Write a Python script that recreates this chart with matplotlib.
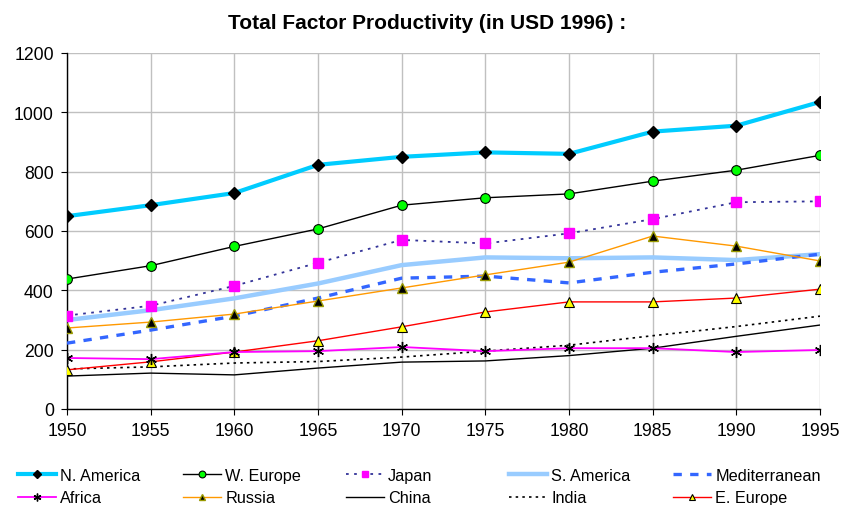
import matplotlib
matplotlib.use("Agg")
import matplotlib.pyplot as plt
from matplotlib.lines import Line2D

plt.rcParams['font.family'] = ['Liberation Sans', 'DejaVu Sans']

years = [1950, 1955, 1960, 1965, 1970, 1975, 1980, 1985, 1990, 1995]
n_america = [650, 687, 728, 823, 850, 865, 860, 935, 955, 1035]
w_europe = [438, 483, 548, 607, 687, 712, 725, 768, 805, 855]
japan = [315, 348, 415, 493, 570, 558, 592, 640, 697, 700]
s_america = [300, 333, 373, 423, 485, 511, 508, 511, 502, 522]
mediterranean = [222, 266, 313, 374, 441, 448, 425, 461, 489, 522]
africa = [172, 168, 192, 195, 209, 195, 205, 205, 192, 199]
russia = [273, 293, 320, 364, 408, 452, 495, 583, 549, 499]
china = [111, 121, 115, 138, 158, 162, 180, 205, 245, 283]
india = [135, 142, 155, 160, 175, 195, 215, 247, 278, 313]
e_europe = [132, 159, 192, 230, 277, 327, 361, 361, 374, 404]

fig = plt.figure(figsize=(8.42, 5.06), dpi=100)
ax = fig.add_axes([67/842, 96/506, (820-67)/842, (410-54)/506])

h = {}
h['China'], = ax.plot(years, china, color='black', lw=1.0, zorder=3)
h['India'], = ax.plot(years, india, color='black', lw=1.2, ls=(0, (1.5, 2.5)), zorder=3)
h['S. America'], = ax.plot(years, s_america, color='#99CCFF', lw=3.2, zorder=3)
h['Mediterranean'], = ax.plot(years, mediterranean, color='#3366FF', lw=2.4, ls=(0, (2.5, 2.5)), zorder=3)
h['Japan'], = ax.plot(years, japan, color='#333399', lw=1.3, ls=(0, (1.5, 3)), marker='s', ms=7,
                      mfc='#FF00FF', mec='#FF00FF', zorder=4)
h['Russia'], = ax.plot(years, russia, color='#FF9900', lw=1.0, marker='^', ms=6.5,
                       mfc='black', mec='#999900', mew=1.0, zorder=4)
h['E. Europe'], = ax.plot(years, e_europe, color='#FF0000', lw=1.0, marker='^', ms=6.5,
                          mfc='#FFFF00', mec='black', mew=0.8, zorder=4)
h['Africa'], = ax.plot(years, africa, color='#FF00FF', lw=1.3, marker=(6, 2, 0), ms=8,
                       mfc='black', mec='black', mew=1.0, zorder=4)
h['W. Europe'], = ax.plot(years, w_europe, color='black', lw=1.0, marker='o', ms=7,
                          mfc='#00FF00', mec='black', mew=0.8, zorder=4)
h['N. America'], = ax.plot(years, n_america, color='#00CCFF', lw=3.0, marker='D', ms=6,
                           mfc='black', mec='black', zorder=5)

ax.set_xlim(1950, 1995)
ax.set_ylim(0, 1200)
ax.set_xticks(years)
ax.set_yticks(range(0, 1201, 200))
ax.tick_params(labelsize=12.7, direction='out', length=4.5, width=0.8, color='black', pad=5)
ax.grid(True, color='#C0C0C0', lw=1.0)
ax.set_axisbelow(True)
for s in ['top', 'right']:
    ax.spines[s].set_visible(False)
for s in ['left', 'bottom']:
    ax.spines[s].set_color('black')
    ax.spines[s].set_linewidth(1.0)

fig.text(427/842, 1 - 24/506, 'Total Factor Productivity (in USD 1996) :', ha='center', va='center',
         fontsize=15, fontweight='bold')

cols = [['N. America', 'Africa'], ['W. Europe', 'Russia'], ['Japan', 'China'],
        ['S. America', 'India'], ['Mediterranean', 'E. Europe']]
xs = [18, 183, 346, 509, 673]
for x, names in zip(xs, cols):
    leg = fig.legend([h[n] for n in names], names, loc='upper left',
                     bbox_to_anchor=(x/842, 1 - 469/506), frameon=False, fontsize=11.7,
                     handlelength=2.35, handletextpad=0.25, labelspacing=0.45,
                     borderpad=0, borderaxespad=0, markerscale=0.7)

fig.savefig('out.png', dpi=100)
